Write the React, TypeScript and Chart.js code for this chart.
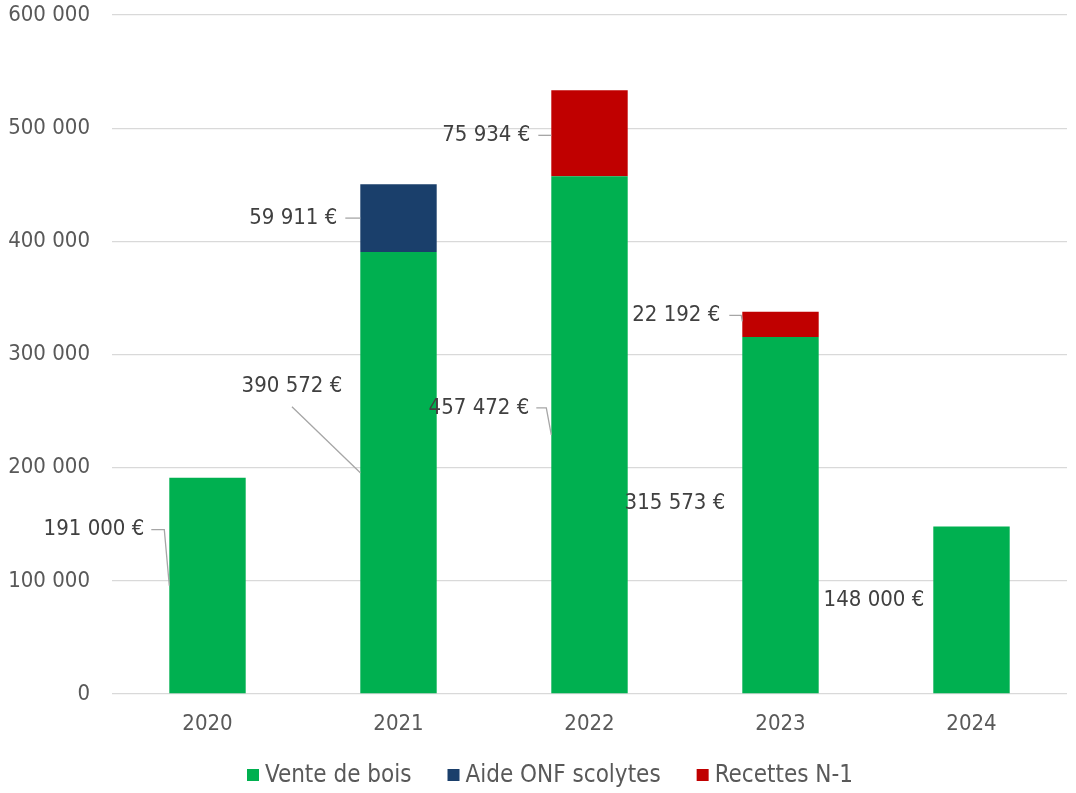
import React, { useEffect, useRef } from "react";
import { Chart, registerables } from "chart.js";

Chart.register(...registerables);

const years = ["2020", "2021", "2022", "2023", "2024"];
const venteBois = [191000, 390572, 457472, 315573, 148000];
const aideOnf = [0, 59911, 0, 0, 0];
const recettesN1 = [0, 0, 75934, 22192, 0];
const seriesNames = ["Vente de bois", "Aide ONF scolytes", "Recettes N-1"];
const seriesColors = ["#00B050", "#1A3F6B", "#C00000"];
const yTicks = [0, 100000, 200000, 300000, 400000, 500000, 600000];

const FONT = "'DejaVu Sans Condensed', 'DejaVu Sans', sans-serif";
const FS = 22;
const LEGEND_FS = 24;

const fmt = (v: number) => String(Math.round(v)).replace(/\B(?=(\d{3})+(?!\d))/g, " ");

// label placement (styling): offsets from the bar's left edge / segment middle
type Lab = { ds: number; i: number; dx: number; dy: number; leader: string };
const labelLayout: Lab[] = [
  { ds: 0, i: 0, dx: -25, dy: -56, leader: "elbow" },
  { ds: 0, i: 1, dx: -18, dy: -86, leader: "diag" },
  { ds: 0, i: 2, dx: -22, dy: -27, leader: "elbow" },
  { ds: 0, i: 3, dx: -17, dy: -12, leader: "none" },
  { ds: 0, i: 4, dx: -9, dy: -10, leader: "none" },
  { ds: 1, i: 1, dx: -23, dy: 0, leader: "flat" },
  { ds: 2, i: 2, dx: -21, dy: 2, leader: "flat" },
  { ds: 2, i: 3, dx: -22, dy: -9, leader: "short" },
];

const labelsPlugin = {
  id: "customLabels",
  afterDatasetsDraw(chart: any) {
    const ctx = chart.ctx;
    ctx.save();
    ctx.font = `${FS}px ${FONT}`;
    ctx.textAlign = "right";
    ctx.textBaseline = "middle";
    for (const l of labelLayout) {
      const meta = chart.getDatasetMeta(l.ds);
      const el = meta.data[l.i];
      const v = chart.data.datasets[l.ds].data[l.i];
      if (!el || !v) continue;
      const bx = el.x - el.width / 2;
      const my = (el.y + el.base) / 2;
      const tx = bx + l.dx;
      const ty = my + l.dy;
      const text = fmt(v) + " €";
      ctx.fillStyle = "#404040";
      ctx.fillText(text, tx, ty);
      const tw = ctx.measureText(text).width;
      ctx.strokeStyle = "#A6A6A6";
      ctx.lineWidth = 1.3;
      ctx.beginPath();
      if (l.leader === "elbow") {
        ctx.moveTo(tx + 7, ty);
        ctx.lineTo(bx - 5, ty);
        ctx.lineTo(bx, my);
      } else if (l.leader === "diag") {
        ctx.moveTo(tx - tw / 2, ty + 20);
        ctx.lineTo(bx, my);
      } else if (l.leader === "flat") {
        ctx.moveTo(tx + 8, ty);
        ctx.lineTo(bx, ty);
      } else if (l.leader === "short") {
        ctx.moveTo(tx + 9, ty);
        ctx.lineTo(bx - 1, ty);
        ctx.lineTo(bx, ty + 6);
      }
      ctx.stroke();
    }
    ctx.restore();
  },
};

const legendPlugin = {
  id: "customLegend",
  afterDraw(chart: any) {
    const ctx = chart.ctx;
    ctx.save();
    ctx.font = `${LEGEND_FS}px ${FONT}`;
    ctx.textBaseline = "middle";
    ctx.textAlign = "left";
    const box = 12;
    const gap = 6;
    const spacing = 36;
    const widths = seriesNames.map((n) => box + gap + ctx.measureText(n).width);
    const total = widths.reduce((a, b) => a + b, 0) + spacing * (widths.length - 1);
    let x = (chart.width - total) / 2 + 12;
    const y = 775;
    seriesNames.forEach((n, k) => {
      ctx.fillStyle = seriesColors[k];
      ctx.fillRect(x, y - box / 2, box, box);
      ctx.fillStyle = "#595959";
      ctx.fillText(n, x + box + gap, y + 1);
      x += widths[k] + spacing;
    });
    ctx.restore();
  },
};

export default function App() {
  const ref = useRef<HTMLCanvasElement | null>(null);
  useEffect(() => {
    if (!ref.current) return;
    const chart = new Chart(ref.current, {
      type: "bar",
      data: {
        labels: years,
        datasets: [
          { label: seriesNames[0], data: venteBois, backgroundColor: seriesColors[0] },
          { label: seriesNames[1], data: aideOnf, backgroundColor: seriesColors[1] },
          { label: seriesNames[2], data: recettesN1, backgroundColor: seriesColors[2] },
        ],
      },
      options: {
        animation: false,
        responsive: false,
        maintainAspectRatio: false,
        layout: { padding: { top: 15, right: 9, left: 0, bottom: 0 } },
        datasets: { bar: { barPercentage: 0.4, categoryPercentage: 1 } },
        plugins: {
          legend: { display: false },
          tooltip: { enabled: false },
        },
        scales: {
          x: {
            stacked: true,
            grid: { display: false, drawTicks: false },
            border: { display: false },
            ticks: { color: "#595959", font: { family: FONT, size: FS }, padding: 17 },
            afterFit: (s: any) => {
              s.height = 99;
              s.paddingLeft = 0;
              s.paddingRight = 0;
            },
          },
          y: {
            stacked: true,
            min: 0,
            max: 600000,
            afterBuildTicks: (s: any) => {
              s.ticks = yTicks.map((v) => ({ value: v }));
            },
            grid: { color: "#D9D9D9", lineWidth: 1.3, drawTicks: false },
            border: { display: false },
            ticks: {
              color: "#595959",
              font: { family: FONT, size: FS },
              padding: 22,
              callback: (v: any) => fmt(Number(v)),
            },
            afterFit: (s: any) => {
              s.width = 112;
              s.paddingTop = 0;
              s.paddingBottom = 0;
            },
          },
        },
      },
      plugins: [labelsPlugin, legendPlugin],
    });
    return () => chart.destroy();
  }, []);
  return (
    <div style={{ position: "absolute", left: 0, top: 0, width: 1076, height: 793, background: "#fff" }}>
      <canvas ref={ref} width={1076} height={793} style={{ display: "block", width: 1076, height: 793 }} />
    </div>
  );
}
